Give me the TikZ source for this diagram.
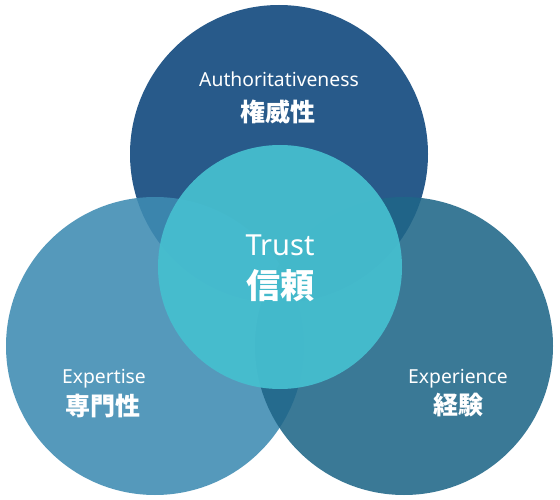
\documentclass[tikz,border=0pt]{standalone}
\usepackage{fontspec}
\setmainfont{Noto Sans}
\newfontfamily\jpfont{Noto Sans CJK JP}
\usetikzlibrary{positioning}
\definecolor{authblue}{RGB}{40,90,138}
\definecolor{expblue}{RGB}{62,139,178}
\definecolor{exrblue}{RGB}{31,102,136}
\definecolor{trustcyan}{RGB}{70,190,207}

\begin{document}
\begin{tikzpicture}[
    x=1pt, y=-1pt,
    circ/.style={circle, draw=none, inner sep=0pt, minimum size=298pt},
    lat/.style={text=white, inner sep=0pt, anchor=base, font=\fontsize{19.3}{22}\selectfont},
    jp/.style={text=white, inner sep=0pt, font=\jpfont\bfseries\fontsize{25}{28}\selectfont},
]
\useasboundingbox (0,0) rectangle (560,500);

% Circles
\node[circ, fill=authblue] (auth) at (279,154) {};
\node[circ, fill=expblue, fill opacity=0.88] (expt) at (155,346) {};
\node[circ, fill=exrblue, fill opacity=0.88] (expr) at (404,346) {};
\node[circ, fill=trustcyan, fill opacity=0.94, minimum size=244pt] (trust) at (280,267) {};

% Labels
\node[lat] (authen) at (279,87) {Authoritativeness};
\node[jp] (authjp) at (278,111.5) {権威性};

\node[lat, font=\fontsize{29}{32}\selectfont] (trusten) at (280,255) {Trust};
\node[jp, font=\jpfont\bfseries\fontsize{34}{38}\selectfont] (trustjp) at (280,286) {信頼};

\node[lat] (exptn) at (104,383) {Expertise};
\node[jp] (exptjp) at (103,406) {専門性};

\node[lat] (exprn) at (458,383) {Experience};
\node[jp] (exprjp) at (458,405) {経験};

\end{tikzpicture}
\end{document}
